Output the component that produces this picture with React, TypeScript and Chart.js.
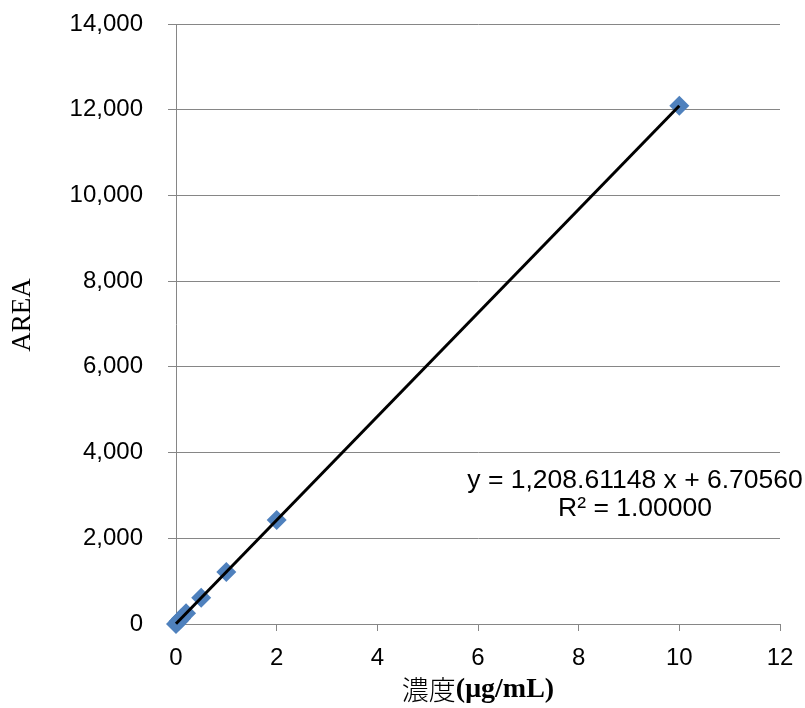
import React, { useEffect, useRef } from "react";
import { Chart, registerables } from "chart.js";

Chart.register(...registerables);

const concX = [0, 0.05, 0.1, 0.2, 0.5, 1, 2, 10];
const areaY = [0, 67, 128, 248, 611, 1215, 2424, 12093];
const slope = 1208.61148;
const intercept = 6.7056;
const trendX = [0, 10];
const eqLine1 = "y = 1,208.61148 x + 6.70560";
const eqLine2 = "R² = 1.00000";
const xTitleA = "濃度";
const xTitleB = "(μg/mL)";
const yTitle = "AREA";

const SANS = "'Liberation Sans', Arial, sans-serif";
const SERIF = "'Liberation Serif', 'Times New Roman', 'Noto Sans CJK JP', serif";
const CJK = "'Noto Sans CJK JP', 'Liberation Serif', serif";

const textPlugin = {
  id: "extraText",
  afterDatasetsDraw(chart: any) {
    const ctx = chart.ctx;
    const xs = chart.scales.x;
    const ys = chart.scales.y;
    const cx = xs.getPixelForValue(9.12);
    const cy = ys.getPixelForValue(3340);
    ctx.save();
    ctx.font = `26.5px ${SANS}`;
    ctx.fillStyle = "#000";
    ctx.textAlign = "center";
    ctx.textBaseline = "middle";
    ctx.fillText(eqLine1, cx, cy);
    ctx.fillText(eqLine2, cx, cy + 28);
    ctx.restore();
  },
  afterDraw(chart: any) {
    const ctx = chart.ctx;
    const area = chart.chartArea;
    ctx.save();
    ctx.fillStyle = "#000";
    ctx.textBaseline = "middle";
    const fA = `300 27px ${CJK}`;
    const fB = `bold 28px ${SERIF}`;
    ctx.font = fA;
    const wA = ctx.measureText(xTitleA).width;
    ctx.font = fB;
    const wB = ctx.measureText(xTitleB).width;
    const centerX = (area.left + area.right) / 2;
    const startX = centerX - (wA + wB) / 2;
    const ty = chart.height - 18;
    ctx.textAlign = "left";
    ctx.font = fA;
    ctx.fillText(xTitleA, startX, ty);
    ctx.font = fB;
    ctx.fillText(xTitleB, startX + wA, ty);
    ctx.translate(23, (area.top + area.bottom) / 2 - 9);
    ctx.rotate(-Math.PI / 2);
    ctx.textAlign = "center";
    ctx.font = `27px ${SERIF}`;
    ctx.fillText(yTitle, 0, 0);
    ctx.restore();
  },
};

export default function App() {
  const ref = useRef<HTMLCanvasElement>(null);
  useEffect(() => {
    const canvas = ref.current!;
    const chart = new Chart(canvas, {
      type: "scatter",
      data: {
        datasets: [
          {
            type: "line",
            data: trendX.map((x) => ({ x, y: slope * x + intercept })),
            borderColor: "#000",
            borderWidth: 3,
            pointRadius: 0,
            fill: false,
            clip: false,
            order: 0,
          },
          {
            data: concX.map((x, i) => ({ x, y: areaY[i] })),
            pointStyle: "rectRot",
            pointRadius: 10,
            pointBackgroundColor: "#4F81BD",
            pointBorderWidth: 0,
            borderColor: "#4F81BD",
            clip: false,
            order: 1,
          },
        ],
      },
      options: {
        animation: false,
        responsive: false,
        devicePixelRatio: 1,
        layout: { padding: { top: 24, right: 25, left: 0, bottom: 0 } },
        plugins: { legend: { display: false }, tooltip: { enabled: false } },
        scales: {
          x: {
            type: "linear",
            min: 0,
            max: 12,
            ticks: {
              stepSize: 2,
              color: "#000",
              font: { family: SANS, size: 24 },
              padding: 13,
            },
            grid: {
              drawOnChartArea: false,
              drawTicks: true,
              tickLength: 7,
              color: "#868686",
            },
            border: { color: "#868686", width: 1 },
            afterFit(scale: any) {
              scale.height = 84;
              scale.paddingLeft = 0;
              scale.paddingRight = 0;
            },
          },
          y: {
            type: "linear",
            min: 0,
            max: 14000,
            ticks: {
              stepSize: 2000,
              color: "#000",
              font: { family: SANS, size: 24 },
              padding: 25,
              callback: (v: any) => Number(v).toLocaleString("en-US"),
            },
            grid: { color: "#868686", tickLength: 8 },
            border: { color: "#868686", width: 1 },
            afterFit(scale: any) {
              scale.width = 176;
              scale.paddingTop = 0;
              scale.paddingBottom = 0;
            },
          },
        },
      },
      plugins: [textPlugin],
    } as any);
    return () => chart.destroy();
  }, []);
  return (
    <div style={{ position: "fixed", left: 0, top: 0, width: 805, height: 708, background: "#fff" }}>
      <canvas ref={ref} width={805} height={708} />
    </div>
  );
}
